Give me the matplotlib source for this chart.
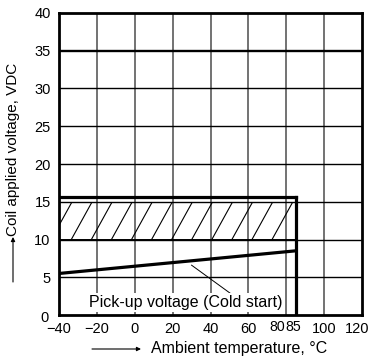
import matplotlib
matplotlib.use("Agg")
import matplotlib.pyplot as plt
from matplotlib.patches import Rectangle, FancyArrowPatch
from matplotlib.transforms import ScaledTranslation
import numpy as np

plt.rcParams['font.family'] = ['Liberation Sans', 'DejaVu Sans']

# Data
x_ticks = [-40, -20, 0, 20, 40, 60, 80, 85, 100, 120]
y_ticks = [0, 5, 10, 15, 20, 25, 30, 35, 40]
pickup_temp = [-40, 85]
pickup_volt = [5.5, 8.5]
band_temp = [-40, 85]
band_volt = [10, 15]
max_volt = 15.6
max_temp = 85

fig = plt.figure(figsize=(3.71, 3.59), dpi=100)
ax = fig.add_axes([59/371, 44/359, 303/371, 302/359])
ax.set_xlim(-40, 120)
ax.set_ylim(0, 40)

# grid
for xv in [-20, 0, 20, 40, 60, 80, 100]:
    ax.axvline(xv, color='#5a5a5a', lw=1.2, zorder=1)
for yv in [5, 10, 15, 20, 25, 30]:
    ax.axhline(yv, color='black', lw=1.0, zorder=1)
ax.axhline(35, color='black', lw=1.7, zorder=1)

# hatched band (manual diagonal hatch, clipped to band)
band = Rectangle((band_temp[0], band_volt[0]), band_temp[1]-band_temp[0],
                 band_volt[1]-band_volt[0], facecolor='none', edgecolor='none', zorder=2)
ax.add_patch(band)
hatch_dx = 11.0   # horizontal run of each hatch stroke across the band
hatch_step = 10.6
for top_x in np.arange(83.5, -45, -hatch_step):
    ln, = ax.plot([top_x - hatch_dx, top_x], band_volt, color='black', lw=0.8, zorder=2)
    ln.set_clip_path(band)
# band bottom line
ax.plot(band_temp, [band_volt[0]] * 2, color='black', lw=1.4, zorder=2)

# max voltage outline
ax.plot([-40, max_temp], [max_volt, max_volt], color='black', lw=2.3, zorder=3)
ax.plot([max_temp, max_temp], [0, max_volt], color='black', lw=2.3, zorder=3)

# pick-up voltage line
ax.plot(pickup_temp, pickup_volt, color='black', lw=2.3, zorder=3)

# annotation
ax.plot([30, 50.3], [6.6, 2.9], color='black', lw=0.7, zorder=3)
ax.text(27, 1.65, 'Pick-up voltage (Cold start)', ha='center', va='center', fontsize=11.5,
        bbox=dict(boxstyle='square,pad=0.1', fc='white', ec='none'), zorder=4)

for s in ax.spines.values():
    s.set_linewidth(2.0)
    s.set_zorder(5)

ax.set_yticks(y_ticks)
ax.set_yticklabels([str(v) for v in y_ticks], fontsize=10.5)
main_x = [v for v in x_ticks if v not in (80, 85)]
ax.set_xticks(main_x)
ax.set_xticklabels([('\u2212%d' % -v) if v < 0 else str(v) for v in main_x], fontsize=10.5)
ax.tick_params(length=0)
ax.tick_params(axis='y', pad=6)
ax.tick_params(axis='x', pad=5)
ylabs = ax.get_yticklabels()
ylabs[0].set_transform(ylabs[0].get_transform() + ScaledTranslation(-2/100, -1/100, fig.dpi_scale_trans))
xlabs = ax.get_xticklabels()
xlabs[-1].set_transform(xlabs[-1].get_transform() + ScaledTranslation(-5/100, 0, fig.dpi_scale_trans))

narrow = ['Liberation Sans Narrow', 'Liberation Sans']
ax.text(79.4, -1.55, '80', ha='right', va='center', fontsize=10.2, family=narrow)
ax.text(79.7, -1.55, '85', ha='left', va='center', fontsize=10.2, family=narrow)

# axis labels with arrows
fig.text(151/371, 1 - 349/359, 'Ambient temperature, \u00b0C', ha='left', va='center', fontsize=11.5)
fig.add_artist(FancyArrowPatch((92/371, 1 - 349/359), (141/371, 1 - 349/359),
               transform=fig.transFigure, arrowstyle='-|>', mutation_scale=6, lw=0.8,
               color='black', shrinkA=0, shrinkB=0))
fig.text(13/371, 1 - 236/359, 'Coil applied voltage, VDC', ha='center', va='bottom',
         rotation=90, fontsize=11)
fig.add_artist(FancyArrowPatch((13/371, 1 - 282/359), (13/371, 1 - 237/359),
               transform=fig.transFigure, arrowstyle='-|>', mutation_scale=6, lw=0.8,
               color='black', shrinkA=0, shrinkB=0))

fig.savefig('out.png', dpi=100)
